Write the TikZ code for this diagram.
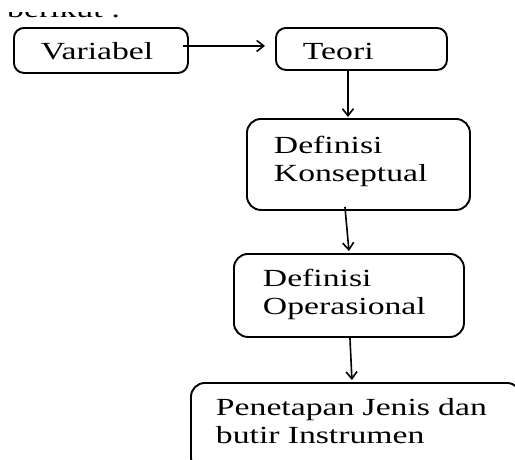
\documentclass[tikz,border=0pt]{standalone}
\usepackage{fontspec}
\setmainfont{Liberation Serif}[FakeStretch=1.37]
\usepackage{tikz}
\usetikzlibrary{positioning, arrows.meta}

\tikzset{
  box/.style = {draw, rounded corners=10pt, line width=1.9pt, align=left,
    anchor=north west, inner ysep=0pt,
    font=\fontsize{24.6}{27.5}\selectfont},
  arr/.style = {line width=1.6pt, -{Straight Barb[length=7pt, width=11pt, line width=1.6pt]}}
}

\begin{document}
\begin{tikzpicture} [x=1pt, y=1pt]

        \clip (0,0) rectangle (515,-459);
        \fill[white] (0,0) rectangle (515,-459);

        \begin{scope}
          \clip (0,-12) rectangle (515,-18);
          \node (intro) [anchor=base west, inner sep=0pt,
          font=\fontsize{24.6}{27.5}\selectfont] at (7,-17) {berikut :};
        \end{scope}

        \node (var) [box, inner xsep=27pt, text width=120pt, text height=32pt,
        text depth=13pt] at (13,-27) {Variabel};
        \node (teori) [box, inner xsep=27pt, text width=117pt, text height=32pt,
        text depth=10pt] at (275,-27) {Teori};
        \node (konsep) [box, rounded corners=14pt, inner xsep=27pt, text width=169pt,
        text height=35pt, text depth=56pt] at (246,-118) {Definisi\\Konseptual};
        \node (oper) [box, rounded corners=14pt, inner xsep=29pt, text width=172pt,
        text height=33pt, text depth=50pt] at (233,-253) {Definisi\\Operasional};
        \node (instr) [box, rounded corners=14pt, inner xsep=25pt, text width=280pt,
        text height=33pt, text depth=55pt] at (190,-382)
        {Penetapan Jenis dan\\butir Instrumen};

        \draw[arr, shorten <=-6pt, shorten >=10pt]
         ([yshift=4.5pt]var.east) -- ([yshift=4.5pt]var.east -| teori.west);
        \draw[arr, shorten >=1pt]
         ([xshift=-13.5pt]teori.south) -- ([xshift=-13.5pt]teori.south |- konsep.north);
        \draw[arr]
         ([xshift=-13.5pt, yshift=4pt]konsep.south) -- ([yshift=2pt]oper.north);
        \draw[arr]
         ([xshift=1pt]oper.south) -- ([xshift=-4pt, yshift=2pt]instr.north);

    \end{tikzpicture}
\end{document}
